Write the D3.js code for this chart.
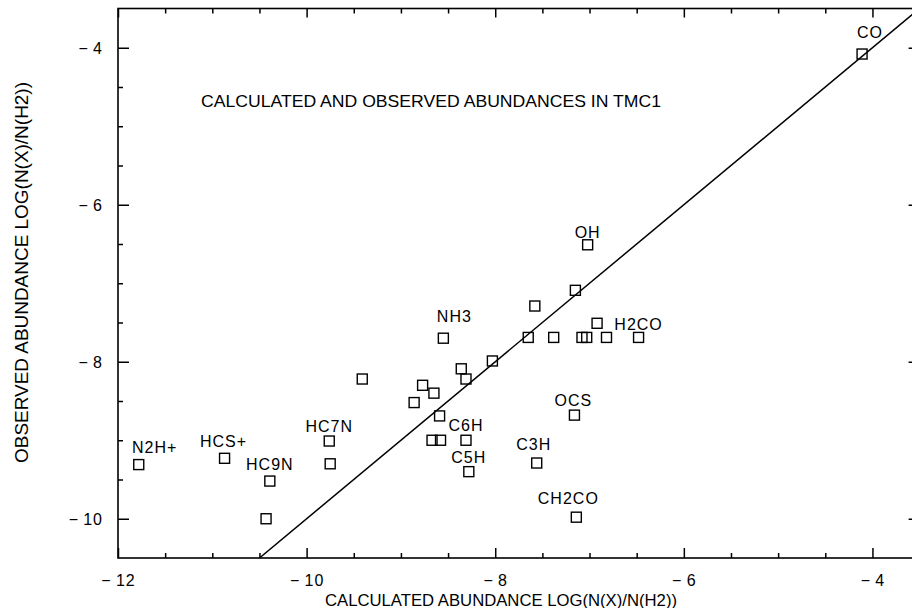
<!DOCTYPE html>
<html>
<head>
<meta charset="utf-8">
<script src="https://cdn.jsdelivr.net/npm/d3@7"></script>
<style>
  html, body { margin: 0; padding: 0; background: #fff; }
  svg { display: block; font-family: "Liberation Sans", Arial, Helvetica, sans-serif; }
</style>
</head>
<body>
<div id="chart"></div>
<script>
// calculated vs observed log abundances, TMC1
const species = ["CO", "OH", "", "", "", "NH3", "", "", "", "", "", "H2CO",
    "", "", "", "", "", "", "", "", "OCS", "HC7N", "", "", "C6H", "", "C3H",
    "C5H", "CH2CO", "N2H+", "HCS+", "HC9N", ""];
const calculated = [-4.11, -7.02, -7.15, -7.58, -6.92, -8.55, -7.65, -7.38, -7.08, -7.03, -6.82, -6.48,
    -8.03, -8.36, -8.31, -9.41, -8.77, -8.65, -8.86, -8.59, -7.16, -9.76, -8.67, -8.58, -8.31, -9.75, -7.56,
    -8.28, -7.14, -11.78, -10.87, -10.39, -10.43];
const observed = [-4.08, -6.51, -7.09, -7.29, -7.51, -7.70, -7.69, -7.69, -7.69, -7.69, -7.69, -7.69,
    -7.99, -8.09, -8.22, -8.22, -8.30, -8.40, -8.52, -8.69, -8.68, -9.01, -9.00, -9.00, -9.00, -9.30, -9.29,
    -9.40, -9.98, -9.31, -9.23, -9.52, -10.0];
const equality = [-10.5, -3.5];   // line obs = calc
const majorTicksX = [-12, -10, -8, -6, -4];
const majorTicksY = [-10, -8, -6, -4];

// where each name sits relative to its square (px)
const labelOffset = {
    "CO": [8, -16], "OH": [0, -7], "NH3": [11, -16], "H2CO": [0, -7],
    "OCS": [-1, -9], "HC7N": [0, -9], "C6H": [0, -9], "C5H": [0, -9],
    "C3H": [-3, -13], "CH2CO": [-8, -13], "N2H+": [16, -12], "HCS+": [-1, -11],
    "HC9N": [0, -11]
};

const width = 912, height = 608;
const svg = d3.select("#chart").append("svg")
    .attr("width", width)
    .attr("height", height);

const x = d3.scaleLinear().domain([-12, -3.5]).range([118, 919.6]);
const y = d3.scaleLinear().domain([-10.5, -3.5]).range([558, 8.5]);

const minorX = d3.range(-11.5, -3.5, 0.5).filter(v => !majorTicksX.includes(v));
const minorY = d3.range(-10, -3.5, 0.5).filter(v => !majorTicksY.includes(v));

function fmt(d) { return "\u2212\u2009" + Math.abs(d); }

function styleAxis(g) {
    g.select(".domain").remove();
    g.selectAll(".tick line").attr("stroke", "#000").attr("stroke-width", 1.5);
    g.selectAll(".tick text")
        .attr("fill", "#000")
        .style("font-size", "16px")
        .style("letter-spacing", "1px");
}

const plotBottom = y.range()[0], plotTop = y.range()[1];
const plotLeft = x.range()[0], plotRight = x.range()[1];

// bottom
svg.append("g").attr("transform", `translate(0,${plotBottom})`)
    .call(d3.axisBottom(x).tickValues(majorTicksX).tickSizeInner(-10).tickSizeOuter(0).tickFormat(fmt))
    .call(styleAxis)
    .call(g => g.selectAll(".tick text").attr("y", 28).attr("dy", null));
svg.append("g").attr("transform", `translate(0,${plotBottom})`)
    .call(d3.axisBottom(x).tickValues(minorX).tickSizeInner(-5).tickSizeOuter(0).tickFormat(""))
    .call(styleAxis);
// top
svg.append("g").attr("transform", `translate(0,${plotTop})`)
    .call(d3.axisTop(x).tickValues(majorTicksX).tickSizeInner(-9).tickSizeOuter(0).tickFormat(""))
    .call(styleAxis);
svg.append("g").attr("transform", `translate(0,${plotTop})`)
    .call(d3.axisTop(x).tickValues(minorX).tickSizeInner(-5).tickSizeOuter(0).tickFormat(""))
    .call(styleAxis);
// left
svg.append("g").attr("transform", `translate(${plotLeft},0)`)
    .call(d3.axisLeft(y).tickValues(majorTicksY).tickSizeInner(-11).tickSizeOuter(0).tickFormat(fmt))
    .call(styleAxis)
    .call(g => g.selectAll(".tick text").attr("x", -15).attr("dy", "0.36em"));
svg.append("g").attr("transform", `translate(${plotLeft},0)`)
    .call(d3.axisLeft(y).tickValues(minorY).tickSizeInner(-5).tickSizeOuter(0).tickFormat(""))
    .call(styleAxis);
// right
svg.append("g").attr("transform", `translate(${plotRight},0)`)
    .call(d3.axisRight(y).tickValues(majorTicksY).tickSizeInner(-11).tickSizeOuter(0).tickFormat(""))
    .call(styleAxis);
svg.append("g").attr("transform", `translate(${plotRight},0)`)
    .call(d3.axisRight(y).tickValues(minorY).tickSizeInner(-5).tickSizeOuter(0).tickFormat(""))
    .call(styleAxis);

// frame
svg.append("rect")
    .attr("x", plotLeft).attr("y", plotTop)
    .attr("width", plotRight - plotLeft).attr("height", plotBottom - plotTop)
    .attr("fill", "none")
    .attr("stroke", "#000")
    .attr("stroke-width", 1.6);

// one-to-one line
svg.append("defs").append("clipPath").attr("id", "plot")
    .append("rect").attr("x", plotLeft).attr("y", plotTop)
    .attr("width", plotRight - plotLeft).attr("height", plotBottom - plotTop);

svg.append("path")
    .datum(equality)
    .attr("clip-path", "url(#plot)")
    .attr("fill", "none")
    .attr("stroke", "#000")
    .attr("stroke-width", 1.5)
    .attr("d", d3.line().x(d => x(d)).y(d => y(d)));

const points = species.map((s, i) => ({name: s, calc: calculated[i], obs: observed[i]}));

svg.append("g")
    .selectAll("rect")
    .data(points)
    .join("rect")
    .attr("x", d => x(d.calc) - 5)
    .attr("y", d => y(d.obs) - 5)
    .attr("width", 10)
    .attr("height", 10)
    .attr("fill", "none")
    .attr("stroke", "#000")
    .attr("stroke-width", 1.4);

svg.append("g")
    .selectAll("text")
    .data(points.filter(d => d.name))
    .join("text")
    .attr("x", d => x(d.calc) + labelOffset[d.name][0])
    .attr("y", d => y(d.obs) + labelOffset[d.name][1])
    .attr("text-anchor", "middle")
    .style("font-size", "16px")
    .style("letter-spacing", "1px")
    .attr("fill", "#000")
    .text(d => d.name);

// titles
svg.append("text")
    .attr("x", 201).attr("y", 107)
    .attr("textLength", 460).attr("lengthAdjust", "spacingAndGlyphs")
    .style("font-size", "17px")
    .text("CALCULATED AND OBSERVED ABUNDANCES IN TMC1");

svg.append("text")
    .attr("x", 325).attr("y", 606)
    .attr("textLength", 352).attr("lengthAdjust", "spacingAndGlyphs")
    .style("font-size", "16.5px")
    .text("CALCULATED ABUNDANCE LOG(N(X)/N(H2))");

svg.append("text")
    .attr("transform", "translate(28,272.5) rotate(-90)")
    .attr("text-anchor", "middle")
    .attr("textLength", 381).attr("lengthAdjust", "spacingAndGlyphs")
    .style("font-size", "19px")
    .text("OBSERVED ABUNDANCE LOG(N(X)/N(H2))");
</script>
</body>
</html>
